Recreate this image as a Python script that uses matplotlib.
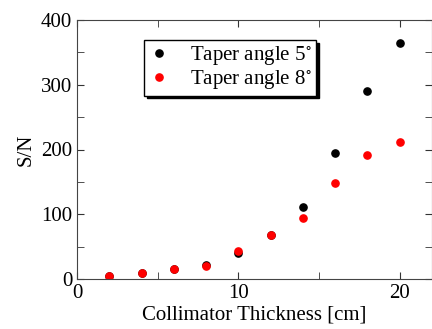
import matplotlib
matplotlib.use("Agg")
import matplotlib.pyplot as plt
from matplotlib.ticker import MultipleLocator

plt.rcParams["font.family"] = ["Liberation Serif", "DejaVu Serif"]
plt.rcParams["mathtext.fontset"] = "stix"

thickness = [2, 4, 6, 8, 10, 12, 14, 16, 18, 20]
sn_taper5 = [5, 9, 15, 21, 40, 68, 111, 194, 290, 364]
sn_taper8 = [5, 9, 15, 20, 43, 68, 94, 148, 191, 212]

fig = plt.figure(figsize=(4.32, 3.29), dpi=100)
ax = fig.add_axes([77 / 432, 1 - 279 / 329, (432 - 77) / 432, (279 - 20) / 329])

ax.plot(thickness, sn_taper5, "o", color="black", markersize=5.2, label="Taper angle 5$^{\\circ}$")
ax.plot(thickness, sn_taper8, "o", color="red", markersize=5.2, label="Taper angle 8$^{\\circ}$")

ax.set_xlim(0, 22)
ax.set_ylim(0, 400)
ax.xaxis.set_major_locator(MultipleLocator(10))
ax.xaxis.set_minor_locator(MultipleLocator(5))
ax.yaxis.set_major_locator(MultipleLocator(100))
ax.yaxis.set_minor_locator(MultipleLocator(50))
ax.tick_params(which="both", direction="in", top=True, right=True, labelsize=15, color="#333333")
ax.tick_params(which="both", length=5)
for s in ax.spines.values():
    s.set_color("#444444")

ax.set_xlabel("Collimator Thickness [cm]", fontsize=15, labelpad=2)
ax.set_ylabel("S/N", fontsize=15, labelpad=4)

# boxed legend with a solid black drop shadow
leg = ax.legend(loc="upper left", bbox_to_anchor=(0.19, 0.922), borderaxespad=0, fontsize=15,
                frameon=True, fancybox=False, shadow={"color": "black", "alpha": 1},
                handletextpad=1.0, borderpad=0.2, labelspacing=0.05, handlelength=1.0)
leg.get_frame().set_edgecolor("black")
leg.get_frame().set_linewidth(1.0)

fig.savefig("out.png", dpi=100)
